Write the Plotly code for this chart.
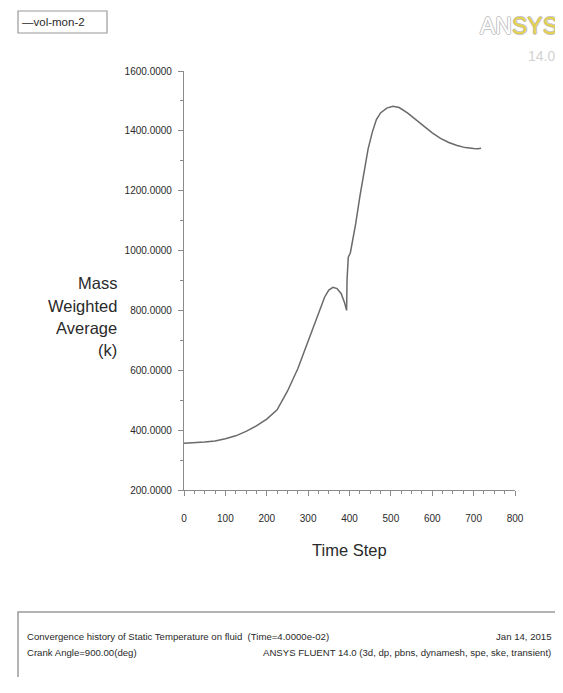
import plotly.graph_objects as go

# ---- data ----
time_step = [0, 25, 50, 75, 100, 125, 150, 175, 200, 225, 250, 275, 300, 312, 325,
             340, 350, 360, 370, 380, 388, 393, 394, 395, 397, 402, 408, 415, 425,
             435, 445, 455, 465, 475, 490, 505, 520, 540, 560, 580, 600, 620, 640,
             660, 680, 700, 710, 718]
temperature = [356, 357, 360, 364, 371, 381, 396, 414, 437, 468, 530, 605, 700, 743, 793,
               845, 868, 877, 873, 856, 826, 800, 900, 960, 978, 992, 1035, 1090, 1180,
               1262, 1340, 1395, 1438, 1460, 1476, 1482, 1478, 1460, 1438, 1414, 1393, 1375, 1361,
               1351, 1344, 1341, 1340, 1342]
x_ticks = [0, 100, 200, 300, 400, 500, 600, 700, 800]
y_ticks = [200, 400, 600, 800, 1000, 1200, 1400, 1600]
series_name = "vol-mon-2"
y_title_lines = ["Mass", "Weighted", "Average", "(k)"]
x_title = "Time Step"
footer_left = ["Convergence history of Static Temperature on fluid  (Time=4.0000e-02)",
               "Crank Angle=900.00(deg)"]
footer_right = ["Jan 14, 2015",
                "ANSYS FLUENT 14.0 (3d, dp, pbns, dynamesh, spe, ske, transient)"]

# ---- layout geometry (pixels in the browser window; page body has an 8px margin) ----
O = 8
W, H = 563 - O, 693 - 3 * O
L, R, T, B = 184 - O, 515 - O, 71 - O, 490 - O
PW, PH = R - L, B - T


def px(x):
    """window x pixel -> paper x"""
    return (x - O - L) / PW


def py(y):
    """window y pixel -> paper y"""
    return (B - (y - O)) / PH


FONT = "Liberation Sans Narrow, Arial Narrow, Liberation Sans, Arial, sans-serif"
TXT = "#2a2a2a"

fig = go.Figure()
fig.add_trace(go.Scatter(x=time_step, y=temperature, mode="lines",
                         line=dict(color="#6a6a6a", width=1.5),
                         name=series_name, showlegend=False))

axis_common = dict(showline=True, linecolor="#8a8a8a", linewidth=1.2,
                   ticks="outside", ticklen=5, tickcolor="#8a8a8a",
                   showgrid=False, zeroline=False, automargin=False,
                   tickfont=dict(family=FONT, size=10, color=TXT))

fig.update_xaxes(range=[0, 800], tickvals=x_ticks, ticktext=[str(v) for v in x_ticks],
                 minor=dict(dtick=25, ticks="outside", ticklen=3, tickcolor="#8a8a8a"),
                 ticklabelstandoff=14, **axis_common)
fig.update_yaxes(range=[200, 1600], tickvals=y_ticks, tickformat=".4f",
                 minor=dict(dtick=100, ticks="outside", ticklen=3, tickcolor="#8a8a8a"),
                 ticklabelstandoff=4, **axis_common)

annotations = []
# y-axis title (right aligned, stacked lines)
for line, yy in zip(y_title_lines, [283, 306, 328, 350]):
    annotations.append(dict(text=line, xref="paper", yref="paper", x=px(119), y=py(yy),
                            xanchor="right", yanchor="middle", showarrow=False,
                            font=dict(family=FONT, size=16.5, color=TXT)))
# x-axis title
annotations.append(dict(text=x_title, xref="paper", yref="paper", x=px(349), y=py(550),
                        xanchor="center", yanchor="middle", showarrow=False,
                        font=dict(family=FONT, size=16.5, color=TXT)))
# legend text
annotations.append(dict(text="\u2014" + series_name, xref="paper", yref="paper",
                        x=px(20), y=py(22), xanchor="left", yanchor="middle", showarrow=False,
                        font=dict(family=FONT, size=11.5, color=TXT)))
# ANSYS logo
annotations.append(dict(text="AN<span style='color:#e6d24a'>SYS</span>",
                        xref="paper", yref="paper", x=px(478), y=py(26),
                        xanchor="left", yanchor="middle", showarrow=False,
                        font=dict(family=FONT, size=23, color="#ffffff",
                                  shadow="-1px 0 #c4c4c4, 1px 0 #c4c4c4, 0 -1px #c4c4c4, 0 1px #c4c4c4")))
annotations.append(dict(text="14.0", xref="paper", yref="paper", x=px(526), y=py(56),
                        xanchor="left", yanchor="middle", showarrow=False,
                        font=dict(family=FONT, size=14, color="#d2d2d2")))
# footer
for txt, yy in zip(footer_left, [636, 652]):
    annotations.append(dict(text=txt, xref="paper", yref="paper", x=px(25), y=py(yy),
                            xanchor="left", yanchor="middle", showarrow=False,
                            font=dict(family=FONT, size=9.6, color=TXT)))
for txt, yy in zip(footer_right, [636, 652]):
    annotations.append(dict(text=txt, xref="paper", yref="paper", x=px(553), y=py(yy),
                            xanchor="right", yanchor="middle", showarrow=False,
                            font=dict(family=FONT, size=9.6, color=TXT)))

shapes = [
    # legend box
    dict(type="rect", xref="paper", yref="paper", x0=px(18), x1=px(107), y0=py(33), y1=py(11),
         line=dict(color="#9a9a9a", width=1.2), fillcolor="rgba(0,0,0,0)"),
    # footer box
    dict(type="rect", xref="paper", yref="paper", x0=px(18), x1=px(580), y0=py(710), y1=py(612),
         line=dict(color="#9a9a9a", width=1.5), fillcolor="rgba(0,0,0,0)"),
]

fig.update_layout(width=W, height=H, margin=dict(l=L, r=W - R, t=T, b=H - B),
                  paper_bgcolor="white", plot_bgcolor="white",
                  annotations=annotations, shapes=shapes, showlegend=False)

fig.write_html("out.html")
